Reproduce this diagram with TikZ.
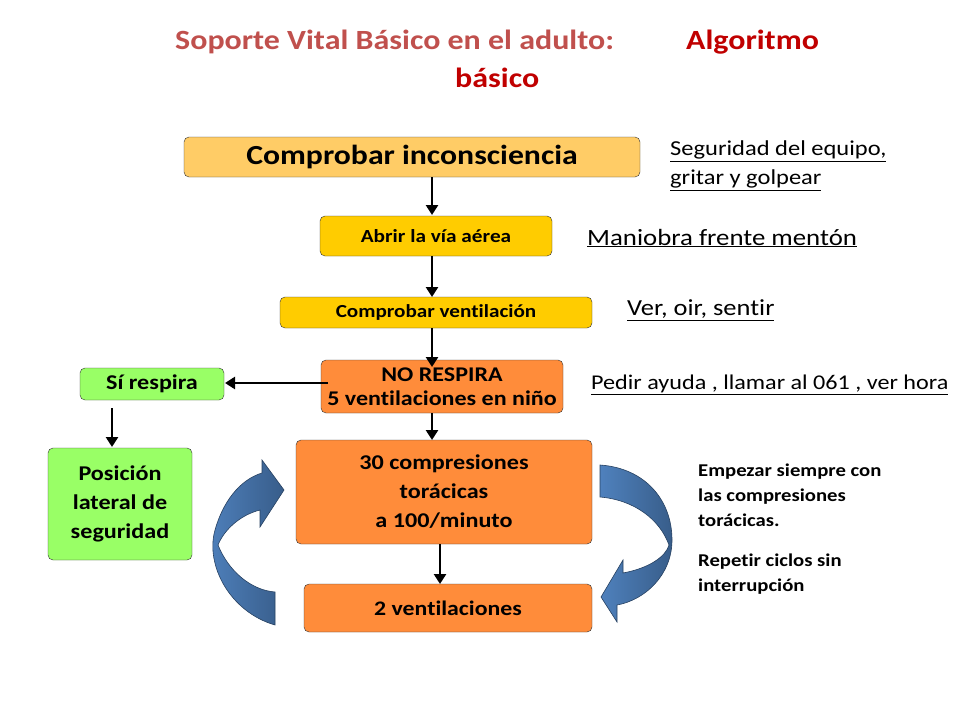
\documentclass[tikz,border=0pt]{standalone}
\usepackage{fontspec}
\setmainfont[FakeStretch=1.15,Ligatures=NoCommon]{Carlito}
\usetikzlibrary{arrows.meta}
\definecolor{ttl}{HTML}{C0504D}
\definecolor{ttr}{HTML}{C00000}
\definecolor{c1}{HTML}{FFCC66}
\definecolor{c2}{HTML}{FFCC00}
\definecolor{cor}{HTML}{FF8C3A}
\definecolor{cgr}{HTML}{99FF66}
\definecolor{bl}{HTML}{4F81BD}
\definecolor{bld}{HTML}{385D8A}
\tikzset{
 box/.style={draw=black!80,rounded corners=5pt,font=\bfseries,align=center,inner sep=0pt},
 arr/.style={-{Triangle[length=10pt,width=12pt]},line width=2.6pt},
 note/.style={anchor=west,font=\fontsize{21}{21}\selectfont,inner sep=0pt},
 small/.style={anchor=west,font=\bfseries\fontsize{18}{25}\selectfont,align=left,inner sep=0pt},
 ttlf/.style={font=\bfseries\fontsize{27.8}{28}\selectfont,anchor=west,inner sep=0pt},
 curv/.style={draw=bld!70!black,line width=0.6pt,left color=bl,right color=bld}
}
\begin{document}
\begin{tikzpicture}[x=1pt,y=-1pt]
\useasboundingbox (0,0) rectangle (960,720);
\node[ttlf,text=ttl] (t1) at (175,42) {Soporte Vital Básico en el adulto:};
\node[ttlf,text=ttr] (t2) at (686,42) {Algoritmo};
\node[ttlf,text=ttr] (t3) at (455,78) {básico};

\node[box,fill=c1,minimum width=456pt,minimum height=40pt,font=\bfseries\fontsize{27.6}{28}\selectfont] (b1) at (412,157) {Comprobar inconsciencia};
\node[box,fill=c2,minimum width=232pt,minimum height=40pt,font=\bfseries\fontsize{18.5}{18}\selectfont] (b2) at (436,236) {Abrir la vía aérea};
\node[box,fill=c2,minimum width=312pt,minimum height=31pt,font=\bfseries\fontsize{18.4}{18}\selectfont] (b3) at (436,312.5) {Comprobar ventilación};
\node[box,fill=cor,minimum width=242pt,minimum height=53pt,font=\bfseries\fontsize{20.9}{24}\selectfont] (b4) at (442,386.5) {NO RESPIRA\\5 ventilaciones en niño};
\node[box,fill=cgr,minimum width=144pt,minimum height=32pt,font=\bfseries\fontsize{21}{21}\selectfont] (b5) at (152,384) {Sí respira};
\node[box,fill=cgr,minimum width=144pt,minimum height=112pt,font=\bfseries\fontsize{21}{29}\selectfont] (b6) at (120,504) {Posición\\lateral de\\seguridad};
\node[box,fill=cor,minimum width=296pt,minimum height=104pt,font=\bfseries\fontsize{21}{29}\selectfont] (b7) at (444,492) {30 compresiones\\torácicas\\a 100/minuto};
\node[box,fill=cor,minimum width=288pt,minimum height=48pt,font=\bfseries\fontsize{20.7}{21}\selectfont] (b8) at (448,608) {2 ventilaciones};

\coordinate (a1) at (432,177); \coordinate (a1e) at (432,215);
\coordinate (a2) at (432,256); \coordinate (a2e) at (432,297);
\coordinate (a3) at (432,328); \coordinate (a3e) at (432,367);
\coordinate (a4) at (328,383); \coordinate (a4e) at (225,383);
\coordinate (a5) at (112,408); \coordinate (a5e) at (112,447);
\coordinate (a6) at (432,413); \coordinate (a6e) at (432,440);
\coordinate (a7) at (440,544); \coordinate (a7e) at (440,584);
\draw[arr] (a1)--(a1e);
\draw[arr] (a2)--(a2e);
\draw[arr] (a3)--(a3e);
\draw[arr] (a4)--(a4e);
\draw[arr] (a5)--(a5e);
\draw[arr] (a6)--(a6e);
\draw[arr] (a7)--(a7e);

\node[note,font=\fontsize{21.3}{29}\selectfont,align=left,anchor=north west] (n1) at (670,141) {\underline{Seguridad del equipo,}\\\underline{gritar y golpear}};
\node[note,font=\fontsize{23.3}{23}\selectfont] (n2) at (587,238) {\underline{Maniobra frente mentón}};
\node[note,font=\fontsize{23}{23}\selectfont] (n3) at (627,310) {\underline{Ver, oir, sentir}};
\node[note] (n4) at (591,385) {\underline{Pedir ayuda , llamar al 061 , ver hora}};
\node[small,anchor=north west] (n5) at (698,464) {Empezar siempre con\\las compresiones\\torácicas.};
\node[small,anchor=north west] (n6) at (698,554) {Repetir ciclos sin\\interrupción};

\path[curv] (275,625) .. controls (230,612) and (205,565) .. (215,530) .. controls (225,495) and (245,478) .. (262,473) -- (262,460) -- (284,490) -- (260,527) -- (260,510) .. controls (240,515) and (224,530) .. (218,545) .. controls (228,570) and (250,590) .. (275,592) -- cycle;
\path[curv] (600,465) .. controls (645,468) and (672,500) .. (672,540) .. controls (672,575) and (645,600) .. (617,605) -- (617,622) -- (601,597) -- (623,560) -- (623,573) .. controls (650,568) and (666,556) .. (669,545) .. controls (660,520) and (635,500) .. (600,497) -- cycle;
\end{tikzpicture}
\end{document}
